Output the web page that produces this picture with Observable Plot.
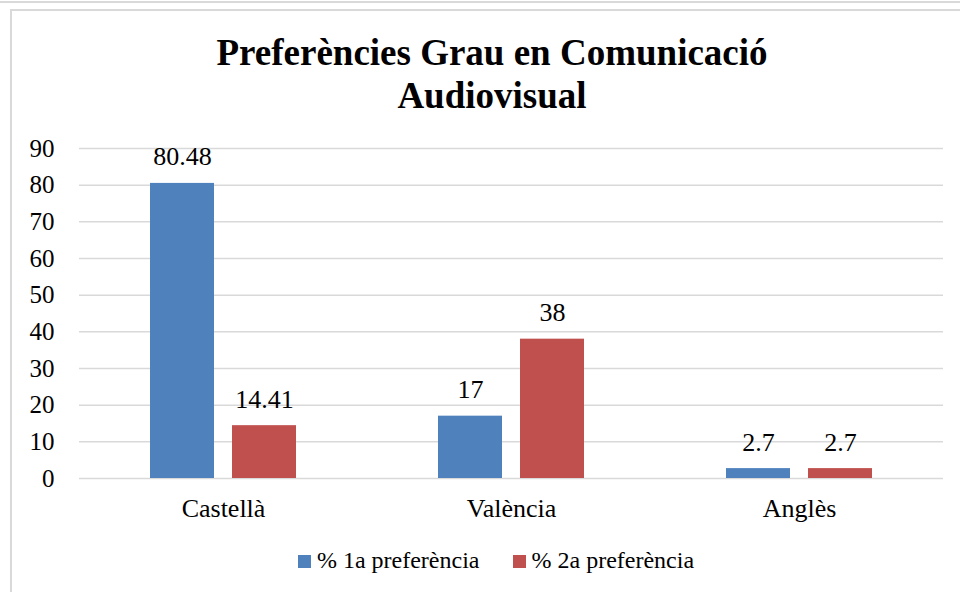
<!DOCTYPE html>
<html>
<head>
<meta charset="utf-8">
<script src="https://cdn.jsdelivr.net/npm/d3@7"></script>
<script src="https://cdn.jsdelivr.net/npm/@observablehq/plot@0.6"></script>
<style>
  html, body { margin: 0; padding: 0; background: #fff; }
  #wrap { position: relative; width: 960px; height: 592px; overflow: hidden; font-family: 'Liberation Serif', 'Times New Roman', serif; color: #000; }
  #topline { position: absolute; left: 0; top: 1px; width: 960px; height: 0; border-top: 2px solid #d9d9d9; }
  #frame { position: absolute; left: 10px; top: 9px; width: 1000px; height: 700px; border: 2px solid #d9d9d9; }
  #chart { position: absolute; left: 0; top: 0; }
  #title { position: absolute; left: 0; top: 31px; width: 984px; text-align: center; font-weight: bold; font-size: 37px; line-height: 43px; }
  #legend { position: absolute; left: 0; top: 547px; width: 992px; text-align: center; font-size: 24px; line-height: 27px; white-space: pre; }
  .sw { display: inline-block; width: 13px; height: 13px; vertical-align: baseline; margin-right: 6px; }
  .item { display: inline-block; }
  .item + .item { margin-left: 33px; }
</style>
</head>
<body>
<div id="wrap">
  <div id="topline"></div>
  <div id="frame"></div>
  <div id="chart"></div>
  <div id="title">Preferències Grau en Comunicació<br>Audiovisual</div>
  <div id="legend"></div>
</div>
<script>
const categories = ["Castellà", "València", "Anglès"];
const seriesNames = ["% 1a preferència", "% 2a preferència"];
const firstPref = [80.48, 17, 2.7];
const secondPref = [14.41, 38, 2.7];
const seriesColors = ["#4F81BD", "#C0504D"];
const yTicks = [0, 10, 20, 30, 40, 50, 60, 70, 80, 90];

const data = [];
categories.forEach((c, i) => {
  data.push({cat: c, series: seriesNames[0], value: firstPref[i]});
  data.push({cat: c, series: seriesNames[1], value: secondPref[i]});
});

const font = "Liberation Serif, Times New Roman, serif";

const chart = Plot.plot({
  width: 960,
  height: 592,
  marginTop: 148,
  marginBottom: 114,
  marginLeft: 78,
  marginRight: 16,
  style: {fontSize: "26px", color: "#000", background: "transparent", overflow: "visible"},
  fx: {domain: categories, padding: 0, label: null, axis: null},
  x: {domain: seriesNames, paddingInner: 0.217, paddingOuter: 0.848, axis: null},
  y: {domain: [0, 90], label: null},
  color: {domain: seriesNames, range: seriesColors},
  marks: [
    Plot.ruleY(yTicks, {stroke: "#d9d9d9", strokeWidth: 1.5}),
    Plot.axisY(yTicks, {tickSize: 0, tickPadding: 25, label: null, fontSize: 25, fill: "#000"}),
    Plot.axisFx({anchor: "bottom", tickSize: 0, tickPadding: 20, label: null, fontSize: 26, fill: "#000"}),
    Plot.barY(data, {fx: "cat", x: "series", y: "value", fill: "series"}),
    Plot.text(data, {fx: "cat", x: "series", y: "value", text: d => String(d.value), dy: -18, lineAnchor: "bottom", fontSize: 26, fill: "#000"})
  ]
});
chart.setAttribute("font-family", font);
chart.style.fontFamily = font;
d3.select(chart).selectAll("g, text").attr("font-family", null).style("font-family", font, "important");
document.getElementById("chart").appendChild(chart);

const legend = document.getElementById("legend");
seriesNames.forEach((s, i) => {
  const item = document.createElement("span");
  item.className = "item";
  const sw = document.createElement("span");
  sw.className = "sw";
  sw.style.background = seriesColors[i];
  item.appendChild(sw);
  item.appendChild(document.createTextNode(s));
  legend.appendChild(item);
});
</script>
</body>
</html>
